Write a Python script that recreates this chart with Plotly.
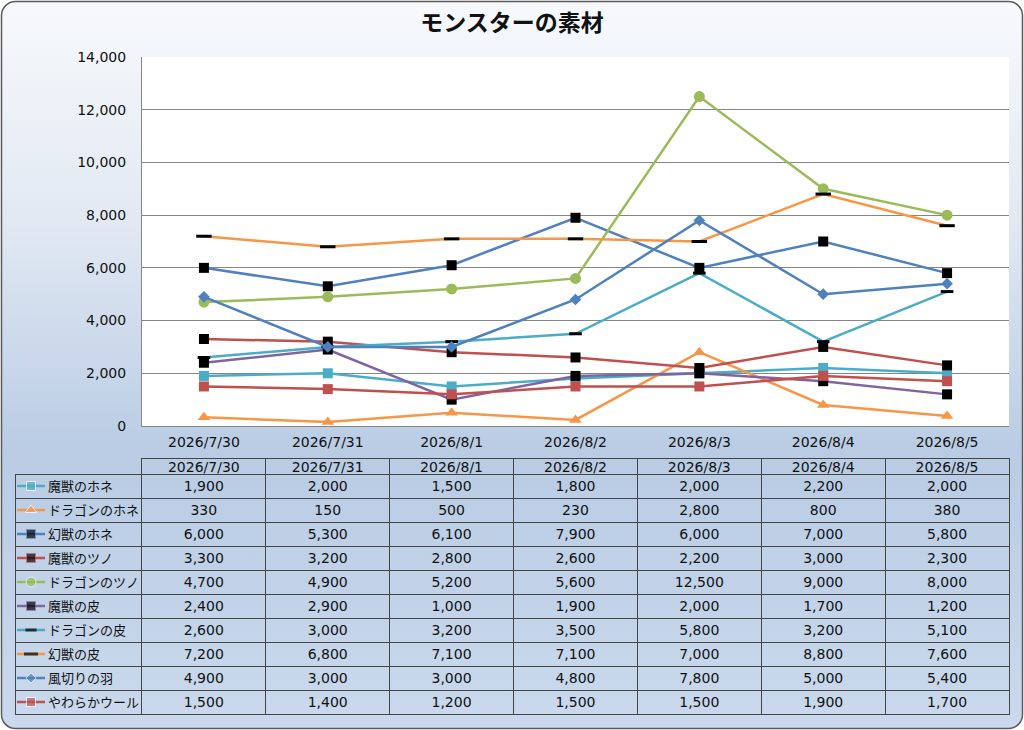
import base64
import plotly.graph_objects as go

# ---------------- data ----------------
dates = ["2026/7/30", "2026/7/31", "2026/8/1", "2026/8/2", "2026/8/3", "2026/8/4", "2026/8/5"]
series_names = ["魔獣のホネ", "ドラゴンのホネ", "幻獣のホネ", "魔獣のツノ", "ドラゴンのツノ",
                "魔獣の皮", "ドラゴンの皮", "幻獣の皮", "風切りの羽", "やわらかウール"]
majyu_hone = [1900, 2000, 1500, 1800, 2000, 2200, 2000]
dragon_hone = [330, 150, 500, 230, 2800, 800, 380]
genjyu_hone = [6000, 5300, 6100, 7900, 6000, 7000, 5800]
majyu_tsuno = [3300, 3200, 2800, 2600, 2200, 3000, 2300]
dragon_tsuno = [4700, 4900, 5200, 5600, 12500, 9000, 8000]
majyu_kawa = [2400, 2900, 1000, 1900, 2000, 1700, 1200]
dragon_kawa = [2600, 3000, 3200, 3500, 5800, 3200, 5100]
genjyu_kawa = [7200, 6800, 7100, 7100, 7000, 8800, 7600]
kazakiri_hane = [4900, 3000, 3000, 4800, 7800, 5000, 5400]
yawaraka_wool = [1500, 1400, 1200, 1500, 1500, 1900, 1700]
y_ticks = [0, 2000, 4000, 6000, 8000, 10000, 12000, 14000]

values = [majyu_hone, dragon_hone, genjyu_hone, majyu_tsuno, dragon_tsuno,
          majyu_kawa, dragon_kawa, genjyu_kawa, kazakiri_hane, yawaraka_wool]

# ---------------- styles ----------------
TEAL, ORANGE, BLUE, RED, GREEN, PURPLE = "#4bacc6", "#f79646", "#4f81bd", "#c0504d", "#9bbb59", "#8064a2"
styles = [
    dict(color=TEAL, symbol="square", mcolor=TEAL, size=10, mline=0),
    dict(color=ORANGE, symbol="triangle-up", mcolor=ORANGE, size=11, mline=0),
    dict(color=BLUE, symbol="square", mcolor="black", size=10, mline=0),
    dict(color=RED, symbol="square", mcolor="black", size=10, mline=0),
    dict(color=GREEN, symbol="circle", mcolor=GREEN, size=11, mline=0),
    dict(color=PURPLE, symbol="square", mcolor="black", size=10, mline=0),
    dict(color=TEAL, symbol="line-ew", mcolor="black", size=9, mline=3),
    dict(color=ORANGE, symbol="line-ew", mcolor="black", size=11, mline=3),
    dict(color=BLUE, symbol="diamond", mcolor=BLUE, size=9, mline=0),
    dict(color=RED, symbol="square", mcolor=RED, size=10, mline=0),
]

FONT = "DejaVu Sans, Noto Sans CJK JP, sans-serif"
JFONT = "Noto Sans CJK JP, DejaVu Sans, sans-serif"
W, H = 1024, 730
CLEAR = "rgba(0,0,0,0)"
LINE = "#454545"
TXT = "#111111"

def px_x(p):
    return p / W

def px_y(p):
    return (H - p) / H

fig = go.Figure()

# main chart lines
for name, vals, st in zip(series_names, values, styles):
    mk = dict(symbol=st["symbol"], size=st["size"], color=st["mcolor"])
    if st["symbol"] == "line-ew":
        mk["line"] = dict(color="black", width=st["mline"])
    fig.add_trace(go.Scatter(
        x=dates, y=vals, name=name, mode="lines+markers",
        line=dict(color=st["color"], width=2.5), marker=mk,
        showlegend=False, xaxis="x", yaxis="y"))

# legend keys inside the data table (first column)
for name, st in zip(series_names, styles):
    mk = dict(symbol=st["symbol"], size=[0, st["size"] - 1, 0], color=st["mcolor"])
    if st["symbol"] == "line-ew":
        mk["line"] = dict(color="black", width=st["mline"])
    fig.add_trace(go.Scatter(
        x=[0, 1, 2], y=[name] * 3, mode="lines+markers",
        line=dict(color=st["color"], width=2.5), marker=mk,
        showlegend=False, hoverinfo="skip", xaxis="x2", yaxis="y2", cliponaxis=False))

# data table
name_col = [""] * len(series_names)
date_cols = [[f"{vals[j]:,}" for vals in values] for j in range(len(dates))]
colw = [127] + [124] * len(dates)
x_dom = [px_x(15), px_x(1009.5)]

# grid of the table (borders only)
fig.add_trace(go.Table(
    domain=dict(x=x_dom, y=[px_y(716), px_y(458)]),
    columnwidth=colw,
    header=dict(values=[""] * (len(dates) + 1), height=16,
                fill=dict(color=CLEAR),
                line=dict(color=[CLEAR] + [LINE] * len(dates), width=1),
                font=dict(family=FONT, size=14, color=CLEAR), align="center"),
    cells=dict(values=[name_col] * (len(dates) + 1), height=24,
               fill=dict(color=CLEAR),
               line=dict(color=LINE, width=1),
               font=dict(family=FONT, size=14, color=CLEAR), align="center"),
))
# text of the table
fig.add_trace(go.Table(
    domain=dict(x=x_dom, y=[px_y(716), px_y(453)]),
    columnwidth=colw,
    header=dict(values=[""] + dates, height=19,
                fill=dict(color=CLEAR), line=dict(color=CLEAR, width=0),
                font=dict(family=FONT, size=14, color=TXT), align="center"),
    cells=dict(values=[name_col] + date_cols, height=24,
               fill=dict(color=CLEAR), line=dict(color=CLEAR, width=0),
               font=dict(family=FONT, size=14, color=TXT), align="center"),
))

# background: gradient panel with rounded border
svg = f'''<svg xmlns="http://www.w3.org/2000/svg" width="{W}" height="{H}" viewBox="0 0 {W} {H}">
<defs><linearGradient id="g" x1="0" y1="0" x2="0" y2="1">
<stop offset="0" stop-color="#f7f9fc"/>
<stop offset="0.3" stop-color="#e2e9f3"/>
<stop offset="0.62" stop-color="#b9cce4"/>
<stop offset="1" stop-color="#cad9ed"/>
</linearGradient></defs>
<rect x="1.5" y="1.5" width="{W-3}" height="{H-3}" rx="14" ry="14" fill="url(#g)" stroke="#5b5b5b" stroke-width="1.5"/>
</svg>'''
src = "data:image/svg+xml;base64," + base64.b64encode(svg.encode("utf-8")).decode("ascii")

fig.update_layout(
    width=W, height=H, autosize=False,
    margin=dict(l=0, r=0, t=0, b=0, pad=0),
    paper_bgcolor="white",
    plot_bgcolor=CLEAR,
    font=dict(family=FONT, size=14, color=TXT),
    title=dict(text="<b>モンスターの素材</b>", x=0.5, xanchor="center", y=1 - 23 / H, yanchor="middle",
               font=dict(family=JFONT, size=23, color=TXT)),
    images=[dict(source=src, xref="paper", yref="paper", x=0, y=1, sizex=1, sizey=1,
                 xanchor="left", yanchor="top", sizing="stretch", layer="below")],
    shapes=[dict(type="rect", xref="x domain", yref="y domain", x0=0, x1=1, y0=0, y1=1,
                 fillcolor="white", line=dict(width=0), layer="below")],
    xaxis=dict(domain=[px_x(142), px_x(1009)], type="category", range=[-0.5, 6.5],
               showline=True, linecolor="#868686", linewidth=1, showgrid=False,
               ticks="", tickfont=dict(family=FONT, size=14, color=TXT),
               ticklabelstandoff=3, anchor="y", automargin=False),
    yaxis=dict(domain=[px_y(426), px_y(57)], range=[0, 14000], tickvals=y_ticks,
               tickformat=",d", showline=True, linecolor="#868686", linewidth=1,
               gridcolor="#868686", gridwidth=1, zeroline=False, ticks="",
               tickfont=dict(family=FONT, size=14, color=TXT),
               ticklabelstandoff=12, anchor="x", automargin=False),
    xaxis2=dict(domain=[px_x(17), px_x(45)], range=[0, 2], visible=False, anchor="y2",
                fixedrange=True, automargin=False),
    yaxis2=dict(domain=[px_y(714), px_y(474)], type="category",
                categoryorder="array", categoryarray=series_names,
                range=[len(series_names) - 0.5, -0.5], side="right", anchor="x2",
                showline=False, showgrid=False, zeroline=False, ticks="",
                tickfont=dict(family=JFONT, size=13, color=TXT),
                ticklabelstandoff=2, fixedrange=True, automargin=False),
)

fig.write_html("out.html", config={"displayModeBar": False},
               post_script="document.body.style.margin='0';document.body.style.overflow='hidden';")
